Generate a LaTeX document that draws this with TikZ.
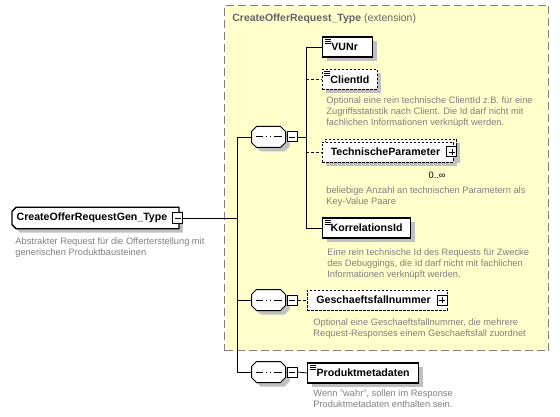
\documentclass[tikz,border=0pt]{standalone}
\usepackage{fontspec}
\setmainfont{Liberation Sans}
\usepackage{xcolor}
\usepackage{tikz}
\usetikzlibrary{positioning,shadows}

\definecolor{extyellow}{RGB}{255,255,204}
\definecolor{extborder}{RGB}{128,128,128}
\definecolor{descgray}{RGB}{128,128,128}
\definecolor{titlegray}{RGB}{100,100,100}
\definecolor{shadegray}{RGB}{192,192,192}

% rectangle with cut corners: name, left cut, right cut
\makeatletter
\newdimen\chxa \newdimen\chxb \newdimen\chya \newdimen\chyb
\def\cutshape#1#2#3{%
\pgfdeclareshape{#1}{
  \inheritsavedanchors[from=rectangle]
  \inheritanchorborder[from=rectangle]
  \inheritanchor[from=rectangle]{center}
  \inheritanchor[from=rectangle]{north}
  \inheritanchor[from=rectangle]{south}
  \inheritanchor[from=rectangle]{east}
  \inheritanchor[from=rectangle]{west}
  \inheritanchor[from=rectangle]{north east}
  \inheritanchor[from=rectangle]{north west}
  \inheritanchor[from=rectangle]{south east}
  \inheritanchor[from=rectangle]{south west}
  \backgroundpath{
    \southwest \chxa=\pgf@x \chya=\pgf@y
    \northeast \chxb=\pgf@x \chyb=\pgf@y
    \pgfpathmoveto{\pgfpoint{\chxa+#2}{\chyb}}
    \pgfpathlineto{\pgfpoint{\chxb-#3}{\chyb}}
    \pgfpathlineto{\pgfpoint{\chxb}{\chyb-#3}}
    \pgfpathlineto{\pgfpoint{\chxb}{\chya+#3}}
    \pgfpathlineto{\pgfpoint{\chxb-#3}{\chya}}
    \pgfpathlineto{\pgfpoint{\chxa+#2}{\chya}}
    \pgfpathlineto{\pgfpoint{\chxa}{\chya+#2}}
    \pgfpathlineto{\pgfpoint{\chxa}{\chyb-#2}}
    \pgfpathclose
  }
}}
\cutshape{compositor}{5pt}{5pt}
\cutshape{complextype}{4pt}{0pt}
\makeatother

\begin{document}
\begin{tikzpicture}[
            x=1pt, y=-1pt, line width=0.8pt,
            shade/.style={drop shadow={shadow xshift=4pt, shadow yshift=-4pt, fill=shadegray, opacity=1}},
            elem/.style={rectangle, draw, line width=1.3pt, fill=white, anchor=west, minimum height=20pt,
                inner xsep=8pt, inner ysep=0pt, font=\fontsize{10.6}{12}\selectfont\bfseries},
            optelem/.style={elem, line width=0.9pt, dash pattern=on 2.5pt off 1.5pt},
            leaf/.style={path picture={
                \foreach \dy in {2,4,6}
                    \draw[solid, line width=0.6pt] ([xshift=2pt, yshift=-\dy pt]path picture bounding box.north west) -- ++(6pt,0pt);}},
            togglebox/.style={rectangle, draw, solid, line width=1pt, fill=white, minimum size=10pt, inner sep=0pt},
            minusbox/.style={togglebox, path picture={
                \draw[line width=0.8pt] ([xshift=2pt]path picture bounding box.west) -- ([xshift=-2pt]path picture bounding box.east);}},
            plusbox/.style={togglebox, path picture={
                \draw[line width=0.8pt] ([xshift=2pt]path picture bounding box.west) -- ([xshift=-2pt]path picture bounding box.east);
                \draw[line width=0.8pt] ([yshift=-2pt]path picture bounding box.north) -- ([yshift=2pt]path picture bounding box.south);}},
            seqbox/.style={compositor, draw, line width=1pt, fill=white,
                minimum width=33pt, minimum height=20pt, inner sep=0pt, path picture={
                \draw[line width=1pt] ([xshift=4pt]path picture bounding box.west) -- ([xshift=-4pt]path picture bounding box.east);
                \foreach \dx in {-5.5,-1.5,2.5}
                    \fill ([xshift=\dx pt, yshift=-1.4pt]path picture bounding box.center) rectangle ++(3pt,2.8pt);}},
            desc/.style={anchor=north west, inner sep=0pt, align=left, text=descgray, font=\fontsize{9.3}{11}\selectfont},
            extbox/.style={rectangle, draw=extborder, fill=extyellow, line width=1pt, dash pattern=on 8pt off 4pt,
                anchor=north west, minimum width=324pt, minimum height=345pt, inner sep=0pt}
        ]
            \useasboundingbox (0,0) rectangle (560,417);

            % Extension base type
            \node[extbox] (ext) at (224,5) {};
            \node[anchor=base west, inner sep=0pt, text=titlegray, font=\fontsize{10.5}{12}\selectfont]
                (exttitle) at (232,22) {\textbf{CreateOfferRequest\_Type} (extension)};

            % Root type
            \node[elem, shade, complextype, inner xsep=4pt] (root) at (12,218) {CreateOfferRequestGen\_Type\kern7pt};
            \node[minusbox] (rootm) at ([xshift=-1pt]root.east) {};
            \node[desc] (rootdesc) at (15,237) {Abstrakter Request für die Offerterstellung mit\\generischen Produktbausteinen};

            % Sequences
            \node[seqbox, shade] (seq1) at (268.5,137) {};
            \node[seqbox, shade] (seq2) at (268.5,300) {};
            \node[seqbox, shade] (seq3) at (268.5,372) {};
            \node[minusbox, right=1pt of seq1] (seq1m) {};
            \node[minusbox, right=1pt of seq2] (seq2m) {};
            \node[minusbox, right=1pt of seq3] (seq3m) {};

            % Elements
            \node[elem, shade, leaf, minimum width=50pt] (vunr) at (322,47) {VUNr\kern6pt};
            \node[optelem, shade, leaf] (clientid) at (322,79.5) {ClientId};
            \node[desc] (clientiddesc) at (326,96) {Optional eine rein technische ClientId z.B. für eine\\Zugriffsstatistik nach Client. Die Id darf nicht mit\\fachlichen Informationen verknüpft werden.};
            \node[optelem, shade, minimum width=131pt] (tpback) at (325,149) {};
            \node[optelem, shade, minimum width=131pt] (tp) at (322,152) {TechnischeParameter\kern5pt};
            \node[plusbox] (tpp) at ([xshift=-2pt]tp.east) {};
            \node[anchor=east, inner sep=0pt, font=\fontsize{9.3}{11}\selectfont] (tpocc) at (446,175) {0..∞};
            \node[desc] (tpdesc) at (326,186) {beliebige Anzahl an technischen Parametern als\\Key-Value Paare};
            \node[elem, shade, leaf] (korr) at (322,228) {KorrelationsId};
            \node[desc] (korrdesc) at (327,248) {Eine rein technische Id des Requests für Zwecke\\des Debuggings, die Id darf nicht mit fachlichen\\Informationen verknüpft werden.};
            \node[optelem, inner xsep=9pt] (gfn) at (307,300) {Geschaeftsfallnummer\kern8pt};
            \node[plusbox] (gfnp) at ([xshift=-6pt]gfn.east) {};
            \node[desc] (gfndesc) at (313,318) {Optional eine Geschaeftsfallnummer, die mehrere\\Request-Responses einem Geschaeftsfall zuordnet};
            \node[elem, shade, leaf, inner xsep=9pt] (prod) at (307,373) {Produktmetadaten};
            \node[desc] (proddesc) at (313,389) {Wenn "wahr", sollen im Response\\Produktmetadaten enthalten sein.};

            % Connectors
            \coordinate (tr1) at (237,137);
            \coordinate (tr3) at (237,372);
            \coordinate (ch1) at (306,47);
            \coordinate (ch4) at (306,228);
            \draw (rootm.east) -- (rootm.east -| tr1);
            \draw (tr1) -- (tr3);
            \draw (tr1) -- (seq1.west);
            \draw (seq2.west -| tr1) -- (seq2.west);
            \draw (tr3) -- (seq3.west);
            \draw (seq1m.east) -- (seq1m.east -| ch1);
            \draw (ch1) -- (ch4);
            \draw (ch1) -- (vunr.west);
            \draw[dash pattern=on 3pt off 2pt] (clientid.west -| ch1) -- (clientid.west);
            \draw[dash pattern=on 3pt off 2pt] (tp.west -| ch1) -- (tp.west);
            \draw (ch4) -- (korr.west);
            \draw[dash pattern=on 3pt off 2pt] (seq2m.east) -- (gfn.west);
            \draw (seq3m.east) -- (prod.west);
        \end{tikzpicture}
\end{document}
